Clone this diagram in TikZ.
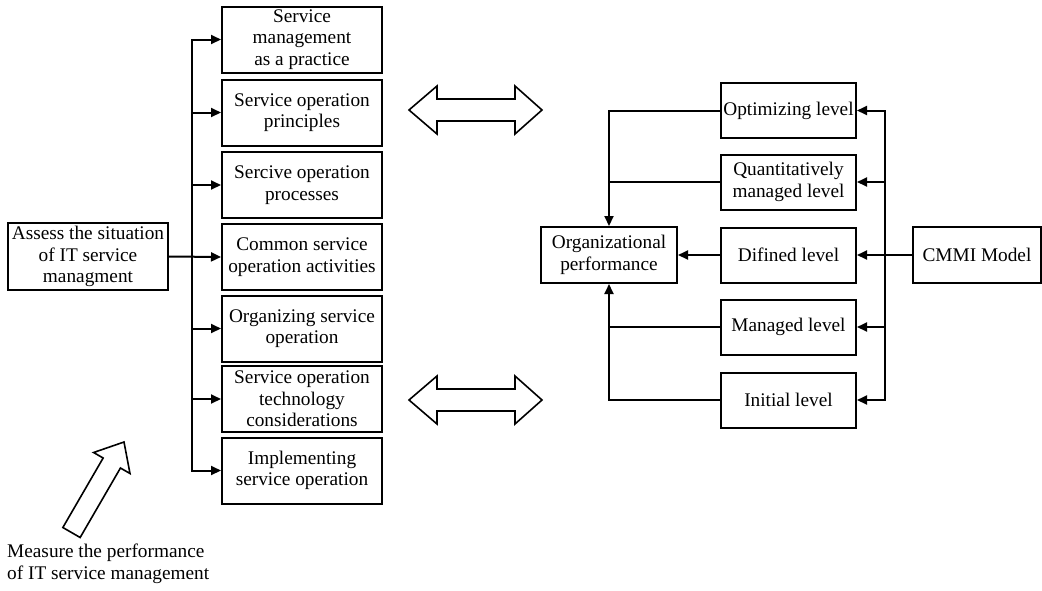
\documentclass[tikz,border=0pt]{standalone}
\usepackage{fontspec}
\setmainfont{Liberation Serif}
\usetikzlibrary{arrows.meta}
\begin{document}
\begin{tikzpicture}[x=1pt,y=-1pt,
  every node/.style={font=\fontsize{19.3}{21.5}\selectfont},
  box/.style={draw,line width=2pt,align=center,inner sep=0pt,minimum width=#1},
  lbox/.style={box=160pt,minimum height=66pt},
  rbox/.style={box=135pt,minimum height=55pt},
  conn/.style={line width=2pt},
  arr/.style={conn,-{Triangle[length=10pt,width=9pt]}},
  hollow/.style={draw,line width=1.6pt,fill=white,line join=miter}]
\useasboundingbox (0,0) rectangle (1042,590);
% left column
\node[lbox] (b1) at (302,39.5) {\fontsize{19.3}{19.5}\selectfont Service\\management\\as a practice};
\node[lbox] (b2) at (302,112.5) {Service operation\\principles};
\node[lbox] (b3) at (302,185) {Sercive operation\\processes};
\node[lbox] (b4) at (302,257) {Common service\\operation activities};
\node[lbox] (b5) at (302,328.5) {Organizing service\\operation};
\node[lbox] (b6) at (302,399) {Service operation\\technology\\considerations};
\node[lbox] (b7) at (302,470.5) {Implementing\\service operation};
\node[box=160pt,minimum height=67pt] (as) at (88,256.5) {Assess the situation\\of IT service\\managment};
\coordinate (lb) at (192,257);
\draw[arr] (as.east) -- (b4.west);
\foreach \b in {b1,b2,b3,b5,b6,b7} \draw[arr] (lb) |- (\b.west);
% measure text and hollow arrow
\node[align=left,anchor=west,inner sep=0pt] (ms) at (7,564) {Measure the performance\\of IT service management};
\draw[hollow] (62.85,527.5) -- (103.15,458.0) -- (93.6,452.5) -- (124,442) -- (130.0,473.5) -- (120.45,468.0) -- (80.15,537.5) -- cycle;
% double arrows
\draw[hollow] (409,110) -- (437,86) -- (437,99) -- (515,99) -- (515,86) -- (542,110) -- (515,134) -- (515,121) -- (437,121) -- (437,134) -- cycle;
\draw[hollow] (409,400) -- (437,376) -- (437,389) -- (515,389) -- (515,376) -- (542,400) -- (515,424) -- (515,411) -- (437,411) -- (437,424) -- cycle;
% right side
\node[box=136pt,minimum height=56pt] (org) at (609,255) {Organizational\\performance};
\node[rbox] (opt) at (788.5,110.5) {Optimizing level};
\node[rbox] (qua) at (788.5,182) {Quantitatively\\managed level};
\node[rbox] (dif) at (788.5,255) {Difined level};
\node[rbox] (man) at (788.5,327) {Managed level};
\node[rbox] (ini) at (788.5,400) {Initial level};
\node[box=128pt,minimum height=56pt] (cm) at (977,255) {CMMI Model};
\coordinate (rb) at (885,255);
\draw[arr] (cm.west) -- (dif.east);
\foreach \b in {opt,qua,man,ini} \draw[arr] (rb) |- (\b.east);
\draw[arr] (opt.west) -| (org.north);
\draw[conn] (qua.west) -- (qua.west -| org.north);
\draw[arr] (dif.west) -- (org.east);
\draw[arr] (ini.west) -| (org.south);
\draw[conn] (man.west) -- (man.west -| org.south);
\end{tikzpicture}
\end{document}
